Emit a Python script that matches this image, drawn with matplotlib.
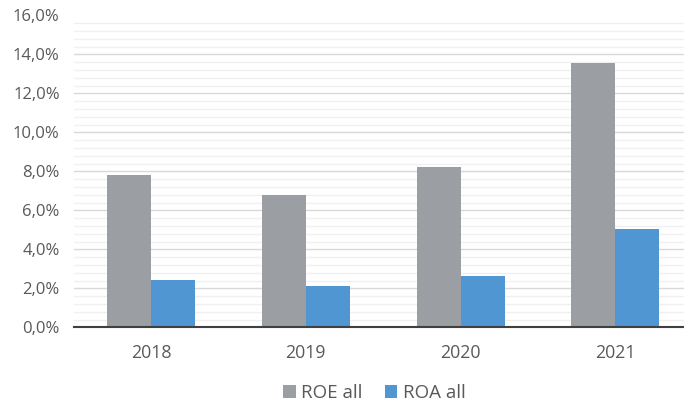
import matplotlib
matplotlib.use("Agg")
import matplotlib.pyplot as plt
import numpy as np
from matplotlib.ticker import FuncFormatter, MultipleLocator

years = ["2018", "2019", "2020", "2021"]
roe_all = [7.8, 6.8, 8.2, 13.55]
roa_all = [2.45, 2.1, 2.65, 5.05]
series_names = ["ROE all", "ROA all"]

plt.rcParams["font.family"] = ["Open Sans", "DejaVu Sans"]
text_color = "#595959"

fig = plt.figure(figsize=(6.84, 4.03), dpi=100)
W, H = 684, 403
left_px, right_px, top_px, bottom_px = 73.6, 684, 15.3, 327.3
ax = fig.add_axes([left_px / W, (H - bottom_px) / H,
                   (right_px - left_px) / W, (bottom_px - top_px) / H])

x = np.arange(len(years))
bw = 0.284
ax.bar(x - bw / 2, roe_all, width=bw, color="#9b9ea2", label=series_names[0], zorder=3)
ax.bar(x + bw / 2, roa_all, width=bw, color="#5096d2", label=series_names[1], zorder=3)

ax.set_ylim(0, 16)
cat_px = 154.8
ax.set_xlim(-0.5, -0.5 + (right_px - left_px) / cat_px)
ax.set_xticks(x, years)

ax.yaxis.set_major_locator(MultipleLocator(2))
ax.yaxis.set_minor_locator(MultipleLocator(0.4))
ax.yaxis.set_major_formatter(FuncFormatter(lambda v, p: f"{v:.1f}%".replace(".", ",")))
ax.grid(axis="y", which="major", color="#d9d9d9", linewidth=1.0, zorder=0)
ax.grid(axis="y", which="minor", color="#f0f0f0", linewidth=1.0, zorder=0)
fig.canvas.draw()
# no gridline along the top edge of the plot area
for tick in ax.yaxis.get_major_ticks() + ax.yaxis.get_minor_ticks():
    if tick.get_loc() >= 15.99:
        tick.gridline.set_visible(False)

for s in ["top", "right", "left"]:
    ax.spines[s].set_visible(False)
ax.spines["bottom"].set_color("#404040")
ax.spines["bottom"].set_linewidth(1.5)
ax.spines["bottom"].set_zorder(4)

ax.tick_params(axis="both", which="both", length=0, colors=text_color, labelsize=12)
ax.tick_params(axis="y", pad=10)
ax.tick_params(axis="x", pad=12, labelsize=12.8)

leg = fig.legend(loc="center", bbox_to_anchor=(0.5475, 1 - 393 / H), ncol=2,
                 frameon=False, fontsize=13.5, handlelength=0.65, handleheight=0.65,
                 handletextpad=0.3, columnspacing=1.2, labelcolor=text_color)

fig.savefig("out.png", dpi=100)
